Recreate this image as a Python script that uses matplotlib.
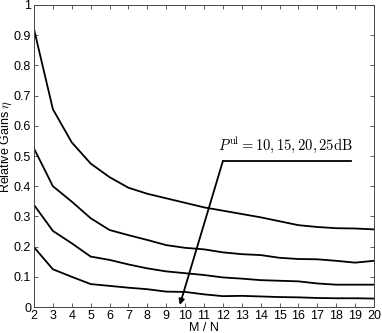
import matplotlib
matplotlib.use('Agg')
import matplotlib.pyplot as plt
import numpy as np

plt.rcParams['font.family'] = ['Liberation Sans', 'DejaVu Sans']
plt.rcParams['mathtext.fontset'] = 'cm'

#---------- data
ratio = [2, 3, 4, 5, 6, 7, 8, 9, 10, 11, 12, 13, 14, 15, 16, 17, 18, 19, 20]
gain_25dB = [0.92, 0.655, 0.545, 0.475, 0.43, 0.395, 0.375, 0.36, 0.345, 0.33,
             0.319, 0.308, 0.297, 0.284, 0.271, 0.265, 0.261, 0.260, 0.257]
gain_20dB = [0.525, 0.40, 0.349, 0.294, 0.255, 0.238, 0.222, 0.205, 0.196, 0.191,
             0.181, 0.175, 0.172, 0.163, 0.159, 0.158, 0.153, 0.147, 0.153]
gain_15dB = [0.338, 0.252, 0.211, 0.167, 0.156, 0.141, 0.128, 0.118, 0.112, 0.106,
             0.098, 0.094, 0.089, 0.087, 0.085, 0.078, 0.074, 0.074, 0.074]
gain_10dB = [0.198, 0.125, 0.100, 0.076, 0.070, 0.064, 0.059, 0.051, 0.050, 0.042,
             0.036, 0.037, 0.035, 0.033, 0.032, 0.030, 0.029, 0.029, 0.028]

fig = plt.figure(figsize=(3.82, 3.33), dpi=100)
ax = fig.add_axes([0.089, 0.078, 0.890, 0.907])

for g in (gain_25dB, gain_20dB, gain_15dB, gain_10dB):
    ax.plot(ratio, g, color='black', lw=1.3)

#---------- annotation: label, leader line and arrow
ax.text(15.3, 0.505, r'$P^{\rm ul} = 10, 15, 20, 25\mathrm{dB}$',
        ha='center', va='bottom', fontsize=10.5)
ax.plot([12, 18.8], [0.483, 0.483], color='black', lw=1.3)
ax.annotate('', xy=(9.72, 0.007), xytext=(12, 0.483),
            arrowprops=dict(arrowstyle='-|>', color='black', lw=1.3,
                            mutation_scale=8, shrinkA=0, shrinkB=0))

ax.set_xlim(2, 20)
ax.set_ylim(0, 1)
ax.set_xticks(np.arange(2, 21, 1))
ax.set_yticks(np.arange(0, 1.01, 0.1))
ax.set_yticklabels(['0', '0.1', '0.2', '0.3', '0.4', '0.5', '0.6', '0.7', '0.8', '0.9', '1'])
ax.tick_params(direction='in', top=True, right=True, labelsize=9, length=3,
               width=0.6, pad=2, color='#444444')
for s in ax.spines.values():
    s.set_linewidth(0.7)
    s.set_color('#444444')
ax.set_xlabel('M / N', fontsize=9, labelpad=0)
ax.set_ylabel(r'Relative Gains $\eta$', fontsize=9, va='center')
ax.yaxis.set_label_coords(-0.081, 0.53)

fig.savefig('out.png', dpi=100)
